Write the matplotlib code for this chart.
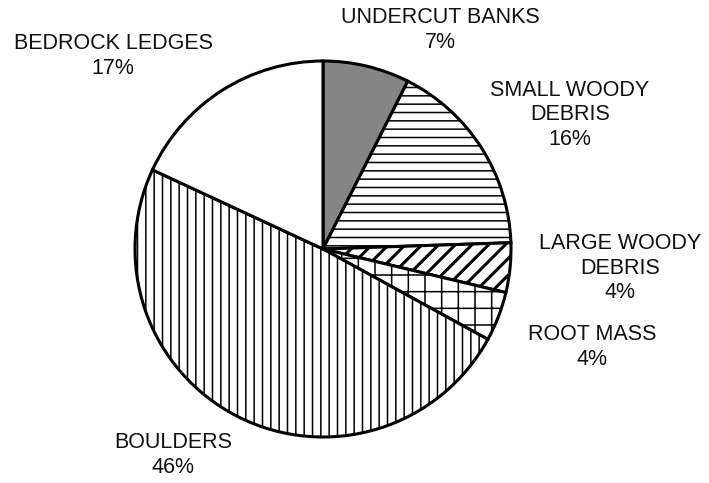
import matplotlib
matplotlib.use('Agg')
import matplotlib.pyplot as plt

plt.rcParams['font.family'] = ['Liberation Sans', 'DejaVu Sans']

habitat = ['UNDERCUT BANKS', 'SMALL WOODY\nDEBRIS', 'LARGE WOODY\nDEBRIS',
           'ROOT MASS', 'BOULDERS', 'BEDROCK LEDGES']
percent = [7, 16, 4, 4, 46, 17]
hatches = [None, '--', '//', '+', '||', None]
fills = ['#858585', 'white', 'white', 'white', 'white', 'white']
# label block centres in pixels (x, y from top)
label_pos = [(440, 30), (570, 115), (620, 268), (592, 347), (173, 455), (113, 56)]

W, H = 709, 483
fig = plt.figure(figsize=(W / 100, H / 100), dpi=100)
ax = fig.add_axes([0, 0, 1, 1])

cx, cy, r = 323, 249, 188
wedges, _ = ax.pie(percent, startangle=90, counterclock=False,
                   center=(cx, H - cy), radius=r, colors=fills,
                   wedgeprops=dict(edgecolor='black', linewidth=2.2),
                   frame=True)
for w, h in zip(wedges, hatches):
    if h:
        w.set_hatch(h)
        if hasattr(w, 'set_hatch_linewidth'):
            w.set_hatch_linewidth(2.2 if h == '//' else 1.1)

for name, p, (x, y) in zip(habitat, percent, label_pos):
    ax.text(x, H - y, '%s\n%d%%' % (name, p), ha='center', va='center',
            fontsize=15.5, linespacing=1.2, color='#111111')

ax.set_xlim(0, W)
ax.set_ylim(0, H)
ax.axis('off')
fig.savefig('out.png', dpi=100)
